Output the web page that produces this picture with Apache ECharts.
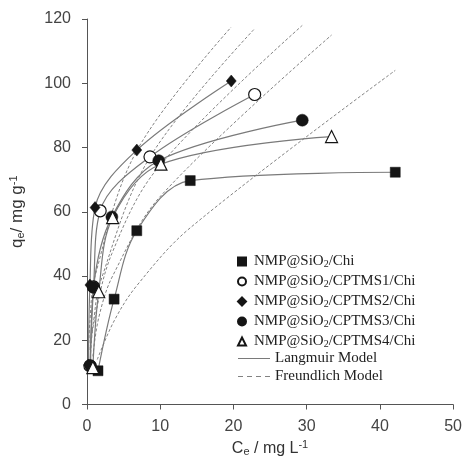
<!DOCTYPE html>
<html lang="en">
<head>
  <meta charset="UTF-8">
  <title>Adsorption isotherms</title>
  <style>
    html, body { margin: 0; padding: 0; background-color: #fff; }
  </style>
  <script src="https://cdn.jsdelivr.net/npm/echarts@6/dist/echarts.min.js"></script>
</head>
<body>
<div id="chart" style="width: 465px; height: 469px;"></div>
<script>
  // series names (legend text)
  let names = [
    'NMP@SiO2/Chi',
    'NMP@SiO2/CPTMS1/Chi',
    'NMP@SiO2/CPTMS2/Chi',
    'NMP@SiO2/CPTMS3/Chi',
    'NMP@SiO2/CPTMS4/Chi'
  ]

  // measured points [Ce, qe]
  let ptsChi = [[1.5, 10.5], [3.7, 32.8], [6.8, 54.1], [14.1, 69.7], [42.1, 72.3]]
  let ptsS1 = [[0.4, 12.0], [0.9, 36.6], [1.8, 60.3], [8.6, 77.1], [22.9, 96.5]]
  let ptsS2 = [[0.2, 12.3], [0.4, 37.2], [1.1, 61.3], [6.8, 79.2], [19.7, 100.7]]
  let ptsS3 = [[0.5, 12.0], [0.9, 36.5], [3.4, 58.4], [9.8, 75.9], [29.4, 88.5]]
  let ptsS4 = [[0.8, 11.5], [1.6, 35.1], [3.5, 58.2], [10.1, 74.8], [33.4, 83.4]]

  // Langmuir model curves
  let lgChi = [[1.5, 10.5], [3.7, 32.8], [6.8, 54.1], [14.1, 69.7], [42.1, 72.3]]
  let lgS1 = [[0.4, 12.0], [0.9, 36.6], [1.8, 60.3], [8.6, 77.1], [22.9, 96.5]]
  let lgS2 = [[0.2, 12.3], [0.4, 37.2], [1.1, 61.3], [6.8, 79.2], [19.7, 100.7]]
  let lgS3 = [[0.5, 12.0], [0.9, 36.5], [3.4, 58.4], [9.8, 75.9], [29.4, 88.5]]
  let lgS4 = [[0.8, 11.5], [1.6, 35.1], [3.5, 58.2], [10.1, 74.8], [33.4, 83.4]]

  // Freundlich model curves
  let frChi = [[1.4, 14], [3.7, 26], [6.8, 37], [14.1, 55], [42.1, 104]]
  let frS1 = [[0.4, 17], [0.9, 26], [1.8, 38], [8.6, 77], [22.9, 117]]
  let frS2 = [[0.2, 16], [0.4, 26], [1.1, 40], [6.8, 79], [19.7, 117.5]]
  let frS3 = [[0.5, 16], [0.9, 25], [3.4, 47], [9.8, 74], [29.4, 118]]
  let frS4 = [[0.8, 15], [1.6, 27], [3.5, 40], [10.1, 65], [33.4, 115]]

  let xTicks = [0, 10, 20, 30, 40, 50]
  let yTicks = [0, 20, 40, 60, 80, 100, 120]

  const black = '#151515'
  const solidGrey = '#7a7a7a'
  const dashGrey = '#828282'

  // marker looks for the five samples
  let marks = [
    {symbol: 'rect', size: 10, color: black, bw: 0.5},
    {symbol: 'circle', size: 12, color: '#fff', bw: 1.2},
    {symbol: 'diamond', size: [10, 12], color: black, bw: 0.5},
    {symbol: 'circle', size: 12, color: black, bw: 0.5},
    {symbol: 'triangle', size: 12, color: '#fff', bw: 1.2}
  ]
  let legendIcons = ['rect', 'circle', 'diamond', 'circle', 'triangle']

  let points = [ptsChi, ptsS1, ptsS2, ptsS3, ptsS4]
  let langmuir = [lgChi, lgS1, lgS2, lgS3, lgS4]
  let freundlich = [frChi, frS1, frS2, frS3, frS4]

  let series = []
  langmuir.forEach(d => {
    series.push({
      name: 'Langmuir Model',
      type: 'line',
      data: d,
      smooth: 0.35,
      symbol: 'none',
      silent: true,
      z: 2,
      lineStyle: {color: solidGrey, width: 1.2, type: 'solid'},
      itemStyle: {color: solidGrey}
    })
  })
  freundlich.forEach(d => {
    series.push({
      name: 'Freundlich Model',
      type: 'line',
      data: d,
      smooth: 0.35,
      symbol: 'none',
      silent: true,
      z: 1,
      lineStyle: {color: dashGrey, width: 1, type: [3, 2]},
      itemStyle: {color: dashGrey}
    })
  })
  points.forEach((d, i) => {
    series.push({
      name: names[i],
      type: 'scatter',
      data: d,
      symbol: marks[i].symbol,
      symbolSize: marks[i].size,
      z: 5,
      itemStyle: {color: marks[i].color, borderColor: black, borderWidth: marks[i].bw, opacity: 1}
    })
  })

  const nameRich = {
    s: {fontSize: 11, color: '#333', verticalAlign: 'bottom', padding: [7, 0, 0, 0]},
    u: {fontSize: 11, color: '#333', verticalAlign: 'top', padding: [0, 0, 6, 0]}
  }

  const chart = echarts.init(document.getElementById('chart'))
  let option = {
    animation: false,
    grid: {left: 85, right: 10, top: 19, bottom: 64.5},
    legend: [
      {
        orient: 'vertical',
        left: 232,
        top: 249,
        itemWidth: 8,
        itemHeight: 8,
        itemGap: 5,
        selectedMode: false,
        data: names.map((n, i) => ({name: n, icon: legendIcons[i]})),
        formatter: n => n.replace('SiO2', 'SiO{s|2}'),
        textStyle: {
          fontFamily: 'Liberation Serif',
          fontSize: 15,
          lineHeight: 15,
          color: '#222',
          padding: [0, 0, 0, 3],
          rich: {
            s: {fontSize: 10, fontFamily: 'Liberation Serif', color: '#222', verticalAlign: 'bottom', padding: [6, 0, 0, 0]}
          }
        }
      },
      {
        orient: 'vertical',
        left: 233,
        top: 346,
        itemWidth: 32,
        itemHeight: 1.3,
        itemGap: 3,
        selectedMode: false,
        data: [
          {name: 'Langmuir Model', icon: 'path://M0,0H32V1H0Z'},
          {name: 'Freundlich Model', icon: 'path://M0,0H5V1H0Z M9,0H14V1H9Z M18,0H23V1H18Z M27,0H32V1H27Z'}
        ],
        textStyle: {fontFamily: 'Liberation Serif', fontSize: 15, lineHeight: 15, color: '#222'}
      }
    ],
    xAxis: {
      type: 'value',
      min: xTicks[0],
      max: xTicks[xTicks.length - 1],
      interval: 10,
      name: 'C{s|e} / mg L{u|-1}',
      nameLocation: 'middle',
      nameGap: 35,
      nameTextStyle: {fontFamily: 'Liberation Sans', fontSize: 16, color: '#333', rich: nameRich},
      axisLine: {show: true, lineStyle: {color: '#555', width: 1}},
      axisTick: {show: true, inside: false, length: 5, lineStyle: {color: '#555'}},
      splitLine: {show: false},
      axisLabel: {fontFamily: 'Liberation Sans', fontSize: 16, color: '#444', margin: 14}
    },
    yAxis: {
      type: 'value',
      min: yTicks[0],
      max: yTicks[yTicks.length - 1],
      interval: 20,
      name: 'q{s|e}/ mg g{u|-1}',
      nameLocation: 'middle',
      nameGap: 61,
      nameRotate: 90,
      nameTextStyle: {fontFamily: 'Liberation Sans', fontSize: 17, color: '#333', rich: nameRich},
      axisLine: {show: true, lineStyle: {color: '#555', width: 1}},
      axisTick: {show: true, inside: false, length: 5, lineStyle: {color: '#555'}},
      splitLine: {show: false},
      axisLabel: {fontFamily: 'Liberation Sans', fontSize: 16, color: '#444', margin: 16}
    },
    series: series
  }
  chart.setOption(option)
</script>
</body>
</html>
